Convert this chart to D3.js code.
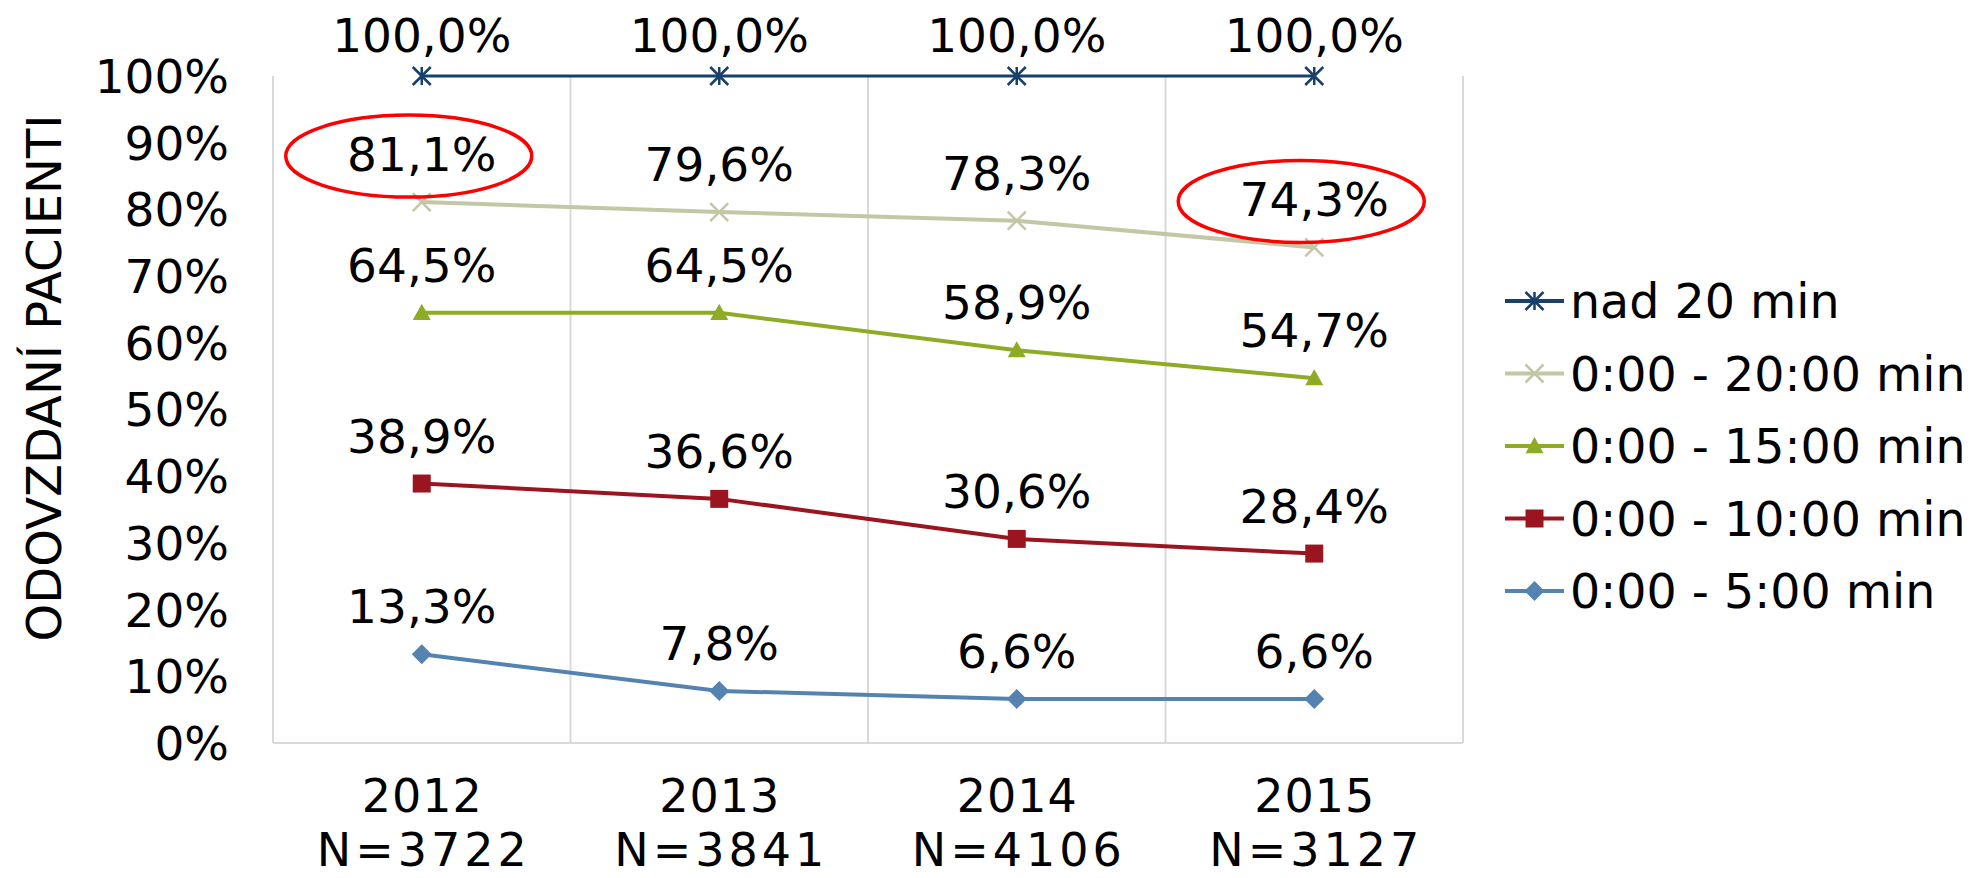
<!DOCTYPE html>
<html lang='sk'>
<head>
    <meta charset='UTF-8'>
    <title>Odovzdaní pacienti</title>
    <style>
        body {
            margin: 0;
            background: #fff;
        }

        text {
            font-family: 'DejaVu Sans', Verdana, sans-serif;
            fill: #000;
        }

        .frame line {
            stroke: #d9d9d9;
            stroke-width: 2px;
        }
    </style>
</head>
<body>
    <div id="chart"></div>
    <script src='https://d3js.org/d3.v7.min.js'></script>
    <script>
        const years = ['2012', '2013', '2014', '2015']
        const counts = ['N=3722', 'N=3841', 'N=4106', 'N=3127']
        const yTicks = [0, 10, 20, 30, 40, 50, 60, 70, 80, 90, 100]

        const seriesNames = ['nad 20 min', '0:00 - 20:00 min', '0:00 - 15:00 min', '0:00 - 10:00 min', '0:00 - 5:00 min']
        const over20 = [100.0, 100.0, 100.0, 100.0]
        const upTo20 = [81.1, 79.6, 78.3, 74.3]
        const upTo15 = [64.5, 64.5, 58.9, 54.7]
        const upTo10 = [38.9, 36.6, 30.6, 28.4]
        const upTo5 = [13.3, 7.8, 6.6, 6.6]

        // which points carry the red ellipse [series index, year index]
        const circled = [[1, 0], [1, 3]]

        const width = 1975
        const height = 878
        const colors = ['#17406d', '#c4c7a6', '#8eab26', '#9b1520', '#5583b0']
        const markers = ['asterisk', 'cross', 'triangle', 'square', 'diamond']
        const series = [over20, upTo20, upTo15, upTo10, upTo5]

        const x = d3.scaleBand().domain(years).range([273, 1463]).padding(0)
        const y = d3.scaleLinear().domain([0, 100]).range([743, 76])
        const cx = d => x(d) + x.bandwidth() / 2

        const svg = d3.select('#chart')
            .append('svg')
            .attr('width', width)
            .attr('height', height)

        // plot frame: left, right, bottom and vertical category lines
        const frame = svg.append('g').attr('class', 'frame')
        const bounds = years.map(d => x(d)).concat([x.range()[1]])
        frame.selectAll('line.v')
            .data(bounds)
            .enter()
            .append('line')
            .attr('x1', d => d).attr('x2', d => d)
            .attr('y1', y(100)).attr('y2', y(0))
        frame.append('line')
            .attr('x1', x.range()[0]).attr('x2', x.range()[1])
            .attr('y1', y(0)).attr('y2', y(0))

        // y axis labels
        svg.append('g')
            .selectAll('text')
            .data(yTicks)
            .enter()
            .append('text')
            .attr('x', 229)
            .attr('y', d => y(d))
            .attr('dy', '0.36em')
            .attr('text-anchor', 'end')
            .style('font-size', '47px')
            .text(d => d + '%')

        svg.append('text')
            .attr('transform', 'translate(61, 378) rotate(-90)')
            .attr('text-anchor', 'middle')
            .style('font-size', '48px')
            .text('ODOVZDANÍ PACIENTI')

        // x axis labels, two rows (year, sample size)
        const xAxis = svg.append('g')
        xAxis.selectAll('text.year')
            .data(years)
            .enter()
            .append('text')
            .attr('class', 'year')
            .attr('x', d => cx(d) + 0.5)
            .attr('y', 812)
            .attr('text-anchor', 'middle')
            .style('font-size', '46px')
            .style('letter-spacing', '1px')
            .text(d => d)
        xAxis.selectAll('text.count')
            .data(counts)
            .enter()
            .append('text')
            .attr('class', 'count')
            .attr('x', (d, i) => cx(years[i]) + 2)
            .attr('y', 866)
            .attr('text-anchor', 'middle')
            .style('font-size', '46px')
            .style('letter-spacing', '4px')
            .text(d => d)

        function markerPath(type, s) {
            const h = s / 2
            if (type === 'asterisk') {
                return `M0,${-h}L0,${h}M${-h},${-h}L${h},${h}M${-h},${h}L${h},${-h}`
            }
            if (type === 'cross') {
                return `M${-h},${-h}L${h},${h}M${-h},${h}L${h},${-h}`
            }
            if (type === 'triangle') {
                return `M0,${-h}L${h},${h * 0.8}L${-h},${h * 0.8}Z`
            }
            if (type === 'square') {
                return `M${-h},${-h}H${h}V${h}H${-h}Z`
            }
            return `M0,${-h - 1}L${h + 1},0L0,${h + 1}L${-h - 1},0Z`
        }

        function drawMarker(g, i) {
            const stroked = markers[i] === 'asterisk' || markers[i] === 'cross'
            g.append('path')
                .attr('d', markerPath(markers[i], 18))
                .attr('fill', stroked ? 'none' : colors[i])
                .attr('stroke', stroked ? colors[i] : 'none')
                .attr('stroke-width', 2.5)
        }

        const line = d3.line()
            .x((d, i) => cx(years[i]))
            .y(d => y(d))

        const lines = svg.append('g')
        series.forEach((vals, s) => {
            const g = lines.append('g')
            g.append('path')
                .attr('d', line(vals))
                .attr('fill', 'none')
                .attr('stroke', colors[s])
                .attr('stroke-width', s === 0 ? 3 : 4)

            vals.forEach((v, i) => {
                const m = g.append('g')
                    .attr('transform', `translate(${cx(years[i])}, ${y(v)})`)
                drawMarker(m, s)
            })

            // data labels above points, kept inside the chart
            g.selectAll('text')
                .data(vals)
                .enter()
                .append('text')
                .attr('x', (d, i) => cx(years[i]))
                .attr('y', d => Math.max(y(d) - 31, 52))
                .attr('text-anchor', 'middle')
                .style('font-size', '47px')
                .text(d => d.toFixed(1).replace('.', ',') + '%')
        })

        // red hand-drawn ellipses
        svg.append('g')
            .selectAll('ellipse')
            .data(circled)
            .enter()
            .append('ellipse')
            .attr('cx', d => cx(years[d[1]]) - 13)
            .attr('cy', d => y(series[d[0]][d[1]]) - 46)
            .attr('rx', 123)
            .attr('ry', 41)
            .attr('fill', 'none')
            .attr('stroke', '#ff0000')
            .attr('stroke-width', 3.5)

        // legend
        const legend = svg.append('g')
            .selectAll('g')
            .data(seriesNames)
            .enter()
            .append('g')
            .attr('transform', (d, i) => `translate(1505, ${301 + i * 72.5})`)

        legend.append('line')
            .attr('x1', 0).attr('x2', 59)
            .attr('stroke', (d, i) => colors[i])
            .attr('stroke-width', 4)
        legend.each(function (d, i) {
            const m = d3.select(this).append('g').attr('transform', 'translate(29.5, 0)')
            drawMarker(m, i)
        })
        legend.append('text')
            .attr('x', 65)
            .attr('y', 17)
            .style('font-size', '47.5px')
            .text(d => d)
    </script>
</body>
</html>
